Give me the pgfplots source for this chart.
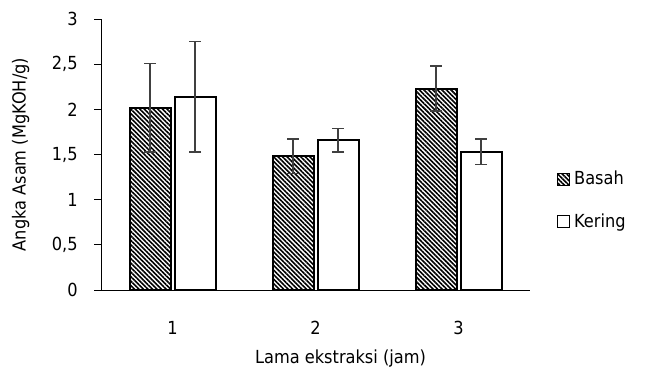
\documentclass[border=0pt]{standalone}
\usepackage{fontspec}
\setmainfont{DejaVu Sans Condensed}
\usepackage{pgfplots}
\pgfplotsset{compat=1.18}
\usetikzlibrary{patterns.meta}
\begin{document}
\fontsize{9}{10.5}\selectfont
\begin{tikzpicture}
\useasboundingbox (-50.5pt,-41pt) rectangle (285.5pt,145pt);
\begin{axis}[
  at={(0,0)}, anchor=origin,
  width=214.5pt, height=135.5pt, scale only axis,
  xmin=0.5, xmax=3.5, ymin=0, ymax=3,
  axis x line*=bottom, axis y line*=left,
  axis line style={line width=0.5pt, -},
  xtick={1,2,3}, xticklabels={1,2,3},
  x tick style={draw=none},
  ytick={0,0.5,1,1.5,2,2.5,3},
  y tick style={line width=0.5pt, black},
  tick align=outside, major tick length=3.5pt,
  yticklabel style={/pgf/number format/use comma, /pgf/number format/assume math mode=true},
  xticklabel style={/pgf/number format/assume math mode=true},
  xticklabel shift=9pt,
  yticklabel shift=5pt,
  xlabel={Lama ekstraksi (jam)},
  ylabel={Angka Asam (MgKOH/g)},
  xlabel style={yshift=-1pt, xshift=12.5pt},
  ylabel style={yshift=5pt},
  ybar, bar width=20.5pt,
  legend style={draw=none, at={(rel axis cs:1.062,0.455)}, anchor=north west,
    row sep=9pt, font=\fontsize{9}{10.5}\selectfont, inner sep=0pt},
  legend cell align=left,
  legend image code/.code={\draw[#1,line width=0.6pt] (0pt,-3pt) rectangle (6pt,3pt);},
  error bars/error bar style={line width=0.75pt, color=black!75},
  error bars/error mark options={rotate=90, mark size=3pt, line width=0.75pt, color=black!75},
]
\addplot+[draw=black, line width=1pt, pattern={Lines[angle=-45,distance=1.6pt,line width=0.8pt]}, pattern color=black,
  error bars/.cd, y dir=both, y explicit]
  coordinates {(1,2.02) +- (0,0.49) (2,1.48) +- (0,0.19) (3,2.23) +- (0,0.25)};
\addplot+[draw=black, fill=white, line width=1pt,
  error bars/.cd, y dir=both, y explicit]
  coordinates {(1,2.14) +- (0,0.61) (2,1.66) +- (0,0.13) (3,1.53) +- (0,0.14)};
\legend{Basah,Kering}
\end{axis}
\end{tikzpicture}
\end{document}
